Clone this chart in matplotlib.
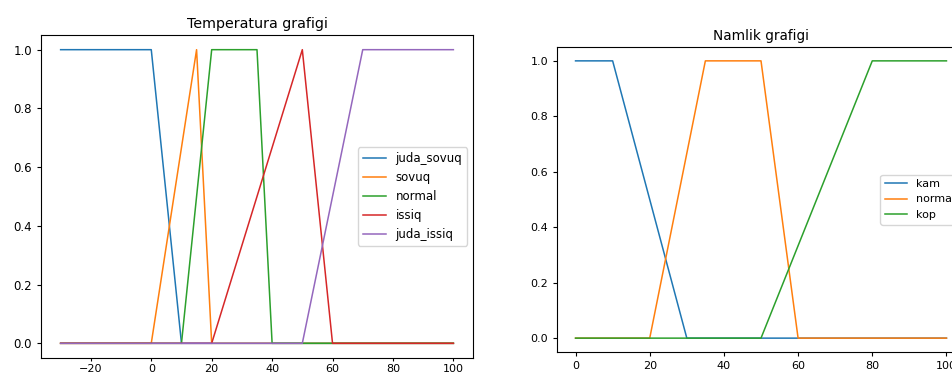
import matplotlib
matplotlib.use("Agg")
import matplotlib.pyplot as plt

# Temperature membership functions (x breakpoints, y values)
temp_labels = ["juda_sovuq", "sovuq", "normal", "issiq", "juda_issiq"]
temp_x = [
    [-30, 0, 10, 100],
    [-30, 0, 15, 20, 100],
    [-30, 10, 20, 35, 40, 100],
    [-30, 20, 50, 60, 100],
    [-30, 50, 70, 100],
]
temp_y = [
    [1, 1, 0, 0],
    [0, 0, 1, 0, 0],
    [0, 0, 1, 1, 0, 0],
    [0, 0, 1, 0, 0],
    [0, 0, 1, 1],
]

# Humidity membership functions
hum_labels = ["kam", "normal", "kop"]
hum_x = [
    [0, 10, 30, 100],
    [0, 20, 35, 50, 60, 100],
    [0, 50, 80, 100],
]
hum_y = [
    [1, 1, 0, 0],
    [0, 0, 1, 1, 0, 0],
    [0, 0, 1, 1],
]

W, H = 952, 376
fig = plt.figure(figsize=(W / 100, H / 100), dpi=100)

fs = 8.5
ax1 = fig.add_axes([41 / W, 1 - 358 / H, (473 - 41) / W, (358 - 35) / H])
for xs, ys, lab in zip(temp_x, temp_y, temp_labels):
    ax1.plot(xs, ys, label=lab, lw=1.1)
ax1.set_title("Temperatura grafigi", fontsize=10.3, pad=5)
ax1.tick_params(labelsize=fs, length=3)
ax1.tick_params(axis="x", labelsize=8, length=2.5, pad=1.5)
ax1.legend(loc="center right", fontsize=fs)

ax2 = fig.add_axes([557 / W, 1 - 352 / H, (965 - 557) / W, (352 - 47) / H])
for xs, ys, lab in zip(hum_x, hum_y, hum_labels):
    ax2.plot(xs, ys, label=lab, lw=1.1)
ax2.set_title("Namlik grafigi", fontsize=9.8, pad=5)
ax2.tick_params(labelsize=8, length=3)
ax2.legend(loc="center right", fontsize=8)

fig.savefig("out.png", dpi=100)
